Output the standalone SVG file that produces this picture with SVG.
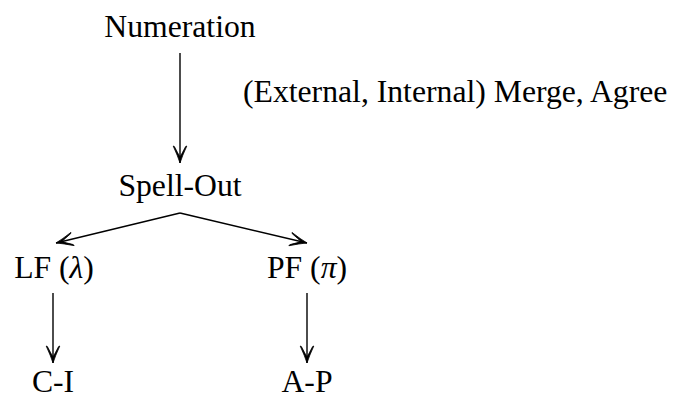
<svg xmlns="http://www.w3.org/2000/svg" width="675" height="399" viewBox="0 0 675 399">
  <style>
    text { font-family: "Liberation Serif", "Times New Roman", serif; font-size: 31.7px; fill: #000; }
    .node { text-anchor: middle; }
    .m { font-style: italic; }
    .edge { stroke: #000; stroke-width: 1.4; fill: none; }
  </style>
  <defs>
    <!-- curved, tapered arrowhead; tip at the line end -->
    <marker id="arrow" viewBox="-18 -8 20 16" markerWidth="20" markerHeight="16" refX="0" refY="0" orient="auto" markerUnits="userSpaceOnUse">
      <path d="M 0,0 Q -7,-2.2 -17,-6.8 L -16.4,-5.6 Q -9,-1.8 -6,0 Q -9,1.8 -16.4,5.6 L -17,6.8 Q -7,2.2 0,0 Z" fill="#000" stroke="#000" stroke-width="0.8" stroke-linejoin="round"/>
    </marker>
  </defs>
  <rect width="675" height="399" fill="#fff"/>

  <g id="connectors">
    <line class="edge" x1="180" y1="53" x2="180" y2="163" marker-end="url(#arrow)"/>
    <line class="edge" x1="180" y1="213" x2="56" y2="243" marker-end="url(#arrow)"/>
    <line class="edge" x1="180" y1="213" x2="307" y2="243" marker-end="url(#arrow)"/>
    <line class="edge" x1="53" y1="293" x2="53" y2="363" marker-end="url(#arrow)"/>
    <line class="edge" x1="307" y1="293" x2="307" y2="363" marker-end="url(#arrow)"/>
  </g>

  <g id="numeration"><text class="node" x="180" y="37">Numeration</text></g>
  <g id="operations"><text x="243" y="102">(External, Internal) Merge, Agree</text></g>
  <g id="spell-out"><text class="node" x="180" y="196">Spell-Out</text></g>
  <g id="lf"><text class="node" x="54" y="278">LF (<tspan class="m">λ</tspan>)</text></g>
  <g id="pf"><text class="node" x="307" y="278">PF (<tspan class="m">π</tspan>)</text></g>
  <g id="ci"><text class="node" x="53" y="392">C-I</text></g>
  <g id="ap"><text class="node" x="307" y="392">A-P</text></g>
</svg>
